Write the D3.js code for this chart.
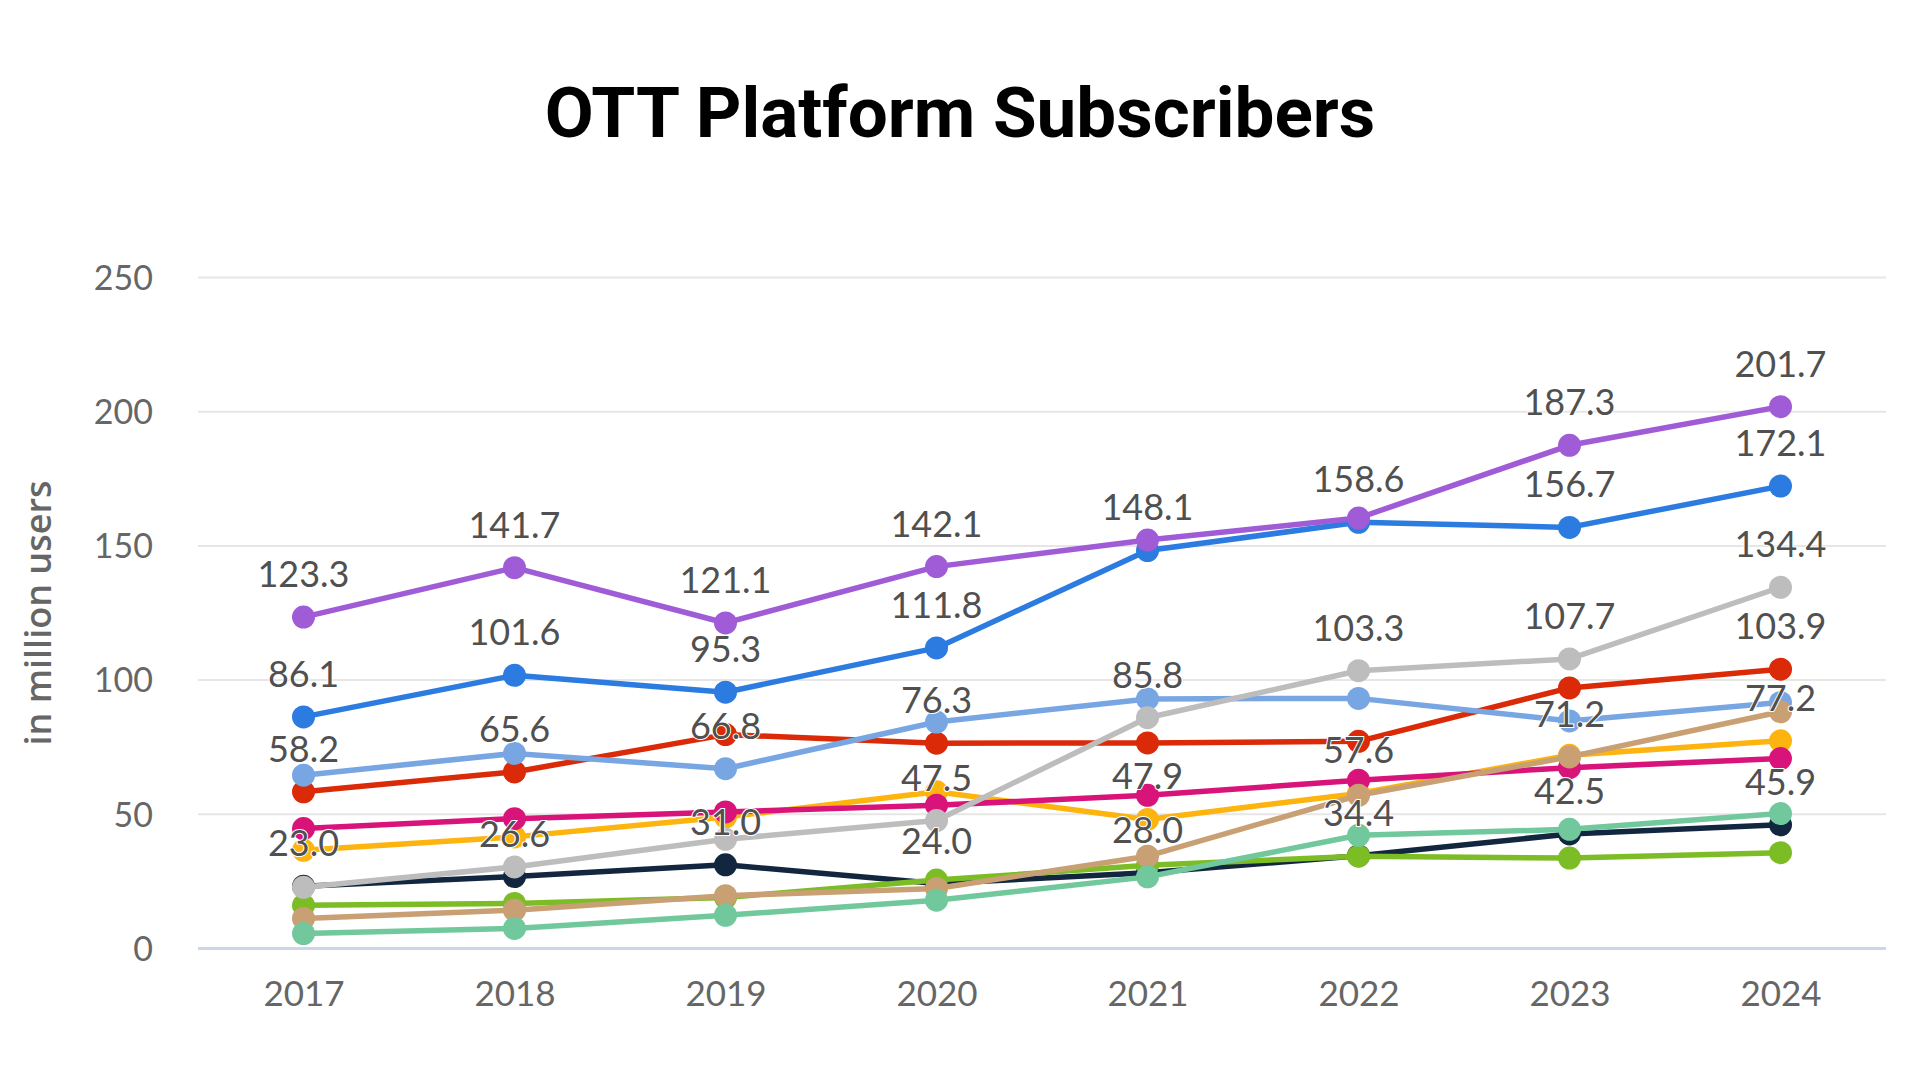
<!DOCTYPE html>
<html>
<head>
<meta charset="utf-8">
<script src="https://cdn.jsdelivr.net/npm/d3@7"></script>
<style>
  html, body { margin: 0; padding: 0; background: #ffffff; }
  svg { display: block; }
</style>
</head>
<body>
<svg id="chart" width="1920" height="1080"></svg>
<script>
// ---------- DATA ----------
const years = ["2017", "2018", "2019", "2020", "2021", "2022", "2023", "2024"];
const yTicks = [0, 50, 100, 150, 200, 250];

const navy      = [23.0, 26.6, 31.0, 24.0, 28.0, 34.4, 42.5, 45.9];
const green     = [15.9, 16.6, 18.8, 25.3, 30.8, 34.2, 33.5, 35.5];
const red       = [58.2, 65.6, 79.5, 76.3, 76.4, 77.0, 96.9, 103.9];
const lightBlue = [64.4, 72.5, 66.8, 84.2, 92.8, 93.0, 84.6, 91.5];
const orange    = [36.4, 41.4, 48.8, 58.2, 47.9, 57.6, 71.8, 77.2];
const magenta   = [44.5, 48.2, 50.7, 53.2, 56.9, 62.5, 67.2, 70.6];
const gray      = [22.6, 30.2, 40.5, 47.5, 85.8, 103.3, 107.7, 134.4];
const tan       = [11.0, 14.1, 19.5, 22.2, 34.2, 56.9, 71.2, 88.0];
const mint      = [5.4, 7.3, 12.2, 17.8, 26.5, 42.0, 44.2, 50.1];
const blue      = [86.1, 101.6, 95.3, 111.8, 148.1, 158.6, 156.7, 172.1];
const purple    = [123.3, 141.7, 121.1, 142.1, 152.0, 160.2, 187.3, 201.7];

// which data labels are visible (others are hidden by overlap in the original)
const navyLabels      = [1, 1, 1, 1, 1, 1, 1, 1];
const greenLabels     = [0, 0, 0, 0, 0, 0, 0, 0];
const redLabels       = [1, 1, 0, 1, 0, 0, 0, 1];
const lightBlueLabels = [0, 0, 1, 0, 0, 0, 0, 0];
const orangeLabels    = [0, 0, 0, 0, 1, 1, 0, 1];
const magentaLabels   = [0, 0, 0, 0, 0, 0, 0, 0];
const grayLabels      = [0, 0, 0, 1, 1, 1, 1, 1];
const tanLabels       = [0, 0, 0, 0, 0, 0, 1, 0];
const mintLabels      = [0, 0, 0, 0, 0, 0, 0, 0];
const blueLabels      = [1, 1, 1, 1, 1, 1, 1, 1];
const purpleLabels    = [1, 1, 1, 1, 0, 0, 1, 1];

const series = [
  { values: navy,      labels: navyLabels,      color: "#12263f" },
  { values: green,     labels: greenLabels,     color: "#7cbc24" },
  { values: red,       labels: redLabels,       color: "#da2a08" },
  { values: lightBlue, labels: lightBlueLabels, color: "#78a6e3" },
  { values: orange,    labels: orangeLabels,    color: "#fdb40f" },
  { values: magenta,   labels: magentaLabels,   color: "#d8147a" },
  { values: gray,      labels: grayLabels,      color: "#bdbdbd" },
  { values: tan,       labels: tanLabels,       color: "#c8a073" },
  { values: mint,      labels: mintLabels,      color: "#72c89d" },
  { values: blue,      labels: blueLabels,      color: "#2b7be0" },
  { values: purple,    labels: purpleLabels,    color: "#a05cd6" }
];

// ---------- LAYOUT ----------
const svg = d3.select("#chart");
const W = 1920, H = 1080;
const plot = { left: 198, right: 1886, top: 277, bottom: 948 };

const x = d3.scalePoint().domain(years).range([plot.left, plot.right]).padding(0.5);
const y = d3.scaleLinear().domain([0, 250]).range([plot.bottom, plot.top]);

const labelFont = "Lato, 'Open Sans', Roboto, sans-serif";

// Title
svg.append("text")
  .attr("x", W / 2).attr("y", 137)
  .attr("text-anchor", "middle")
  .attr("font-family", "Roboto, 'Open Sans', sans-serif")
  .attr("font-weight", 700)
  .attr("font-size", 71)
  .attr("fill", "#000")
  .text("OTT Platform Subscribers");

// Grid lines
const yAxis = d3.axisLeft(y).tickValues(yTicks).tickSize(-(plot.right - plot.left)).tickFormat(d3.format("d")).tickPadding(45);
const gY = svg.append("g").attr("transform", `translate(${plot.left},0)`).call(yAxis);
gY.select(".domain").remove();
gY.selectAll(".tick line").attr("stroke", "#e6e6e6").attr("stroke-width", 2);
gY.selectAll(".tick").filter(d => d === 0).select("line").attr("stroke", "#ccd6eb").attr("stroke-width", 3);
gY.selectAll(".tick text")
  .attr("font-family", labelFont)
  .attr("font-size", 34)
  .attr("fill", "#666666")
  .attr("dy", "0.36em");

// X axis
const xAxis = d3.axisBottom(x).tickSize(0).tickPadding(33);
const gX = svg.append("g").attr("transform", `translate(0,${plot.bottom})`).call(xAxis);
gX.select(".domain").remove();
gX.selectAll(".tick text")
  .attr("font-family", labelFont)
  .attr("font-size", 35)
  .attr("fill", "#666666")
  .attr("dy", "0.71em");

// Y axis title
svg.append("text")
  .attr("transform", `translate(51,613) rotate(-90)`)
  .attr("text-anchor", "middle")
  .attr("font-family", "'Open Sans', sans-serif")
  .attr("font-weight", 600)
  .attr("font-size", 36)
  .attr("fill", "#666666")
  .text("in million users");

// Lines & markers
const line = d3.line().x((d, i) => x(years[i])).y(d => y(d));
series.forEach(s => {
  const g = svg.append("g");
  g.append("path")
    .datum(s.values)
    .attr("d", line)
    .attr("fill", "none")
    .attr("stroke", s.color)
    .attr("stroke-width", 5.5)
    .attr("stroke-linejoin", "round");
  g.selectAll("circle")
    .data(s.values)
    .join("circle")
    .attr("cx", (d, i) => x(years[i]))
    .attr("cy", d => y(d))
    .attr("r", 11.5)
    .attr("fill", s.color);
});

// Data labels
const lg = svg.append("g");
series.forEach(s => {
  s.values.forEach((v, i) => {
    if (!s.labels[i]) return;
    lg.append("text")
      .attr("x", x(years[i]))
      .attr("y", y(v) - 30)
      .attr("text-anchor", "middle")
      .attr("font-family", labelFont)
      .attr("font-size", 36)
      .attr("fill", "#505050")
      .attr("stroke", "#ffffff")
      .attr("stroke-width", 2)
      .attr("paint-order", "stroke")
      .text(d3.format(".1f")(v));
  });
});
</script>
</body>
</html>
